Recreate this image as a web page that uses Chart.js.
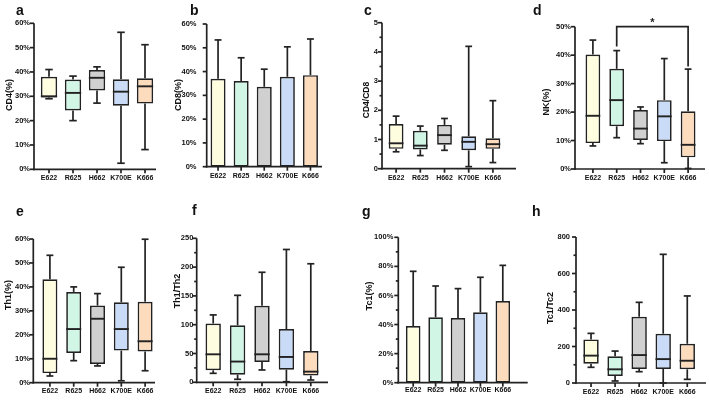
<!DOCTYPE html>
<html><head><meta charset="utf-8">
<script src="https://cdn.jsdelivr.net/npm/chart.js@4.4.1/dist/chart.umd.min.js"></script>
<style>
html,body{margin:0;padding:0;background:#fff;}
#wrap{position:relative;width:709px;height:400px;overflow:hidden;background:#fff;}
#wrap canvas{position:absolute;left:0;top:0;}
</style></head><body><div id="wrap"></div>
<script>
// ---------------- data ----------------
const categories = ['E622', 'R625', 'H662', 'K700E', 'K666'];

// box plots: [min, q1, median, q3, max] per category
const cd4Box = [[29, 29.5, 30, 38, 41], [20, 24.2, 31.4, 36.9, 38.3], [27.2, 32.4, 37.6, 40.8, 42.1], [2.5, 26.1, 31.9, 37, 56.3], [8.1, 27, 34.1, 37.4, 51.2]];
const ratioCd4Cd8Box = [[0.58, 0.68, 0.87, 1.53, 1.80], [0.45, 0.66, 0.79, 1.30, 1.46], [0.63, 0.82, 1.15, 1.50, 1.72], [0.07, 0.63, 0.92, 1.11, 4.19], [0.21, 0.68, 0.84, 1.04, 2.33]];
const nkBox = [[8.1, 9.1, 18.7, 40.2, 45.3], [11, 15, 24.2, 35.2, 41.6], [8.9, 10.2, 14.2, 20.7, 21.8], [2.2, 9.8, 18.5, 24.2, 38.8], [0.2, 4.1, 8.5, 20.3, 35.1]];
const th1Box = [[2.8, 4, 10, 43.2, 53.2], [9.2, 12.4, 22.4, 37.9, 40], [7, 7.8, 26.7, 32.2, 37.2], [0.8, 13.4, 22.4, 33.6, 48.2], [5, 13, 17.3, 33.8, 59.9]];
const th1Th2Box = [[15.6, 20.8, 48.6, 102, 117], [5.2, 13.3, 36, 99, 151], [21.4, 35.3, 48.6, 133, 191], [1, 22, 44, 92.5, 230.6], [4, 11.6, 18.5, 54.3, 205.8]];
const tc1Tc2Box = [[86, 106, 150, 239, 272], [11, 38, 75, 146, 175], [62, 77, 153, 363, 442], [0, 77, 131, 270, 705], [20, 75, 122, 215, 477]];

// bar + SD panels
const cd8Mean = [37, 36, 33.6, 37.8, 38.5];
const cd8SD = [16.3, 9.8, 7.4, 12.6, 15.2];
const tc1Mean = [39, 45, 44.5, 48.4, 56.2];
const tc1SD = [37.6, 21.5, 20.2, 24.1, 24.5];

// significance bracket in panel d: [fromIndex, toIndex, level, leftEnd, rightEnd]
const nkSignificance = [1, 4, 50, 43, 36];
const nkSignificanceLabel = '*';

// tick labels
const ticksPct60 = [0, 10, 20, 30, 40, 50, 60];
const ticksPct50 = [0, 10, 20, 30, 40, 50];
const ticksRatio5 = [0, 1, 2, 3, 4, 5];
const minorRatio5 = [0.5, 1.5, 2.5, 3.5, 4.5];
const ticks250 = [0, 50, 100, 150, 200, 250];
const minor250 = [25, 75, 125, 175, 225];
const ticksPct100 = [0, 20, 40, 60, 80, 100];
const minorPct100 = [10, 30, 50, 70, 90];
const ticks800 = [0, 200, 400, 600, 800];
const minor800 = [100, 300, 500, 700];

// ---------------- styling / layout ----------------
const FONT = "'Liberation Sans', Arial, Helvetica, sans-serif";
const LINE = '#222222';
const boxColors = ['#FFFDE0', '#D1F6E6', '#D0D0D0', '#C9DBF6', '#FDDBBD'];
const WY = 30, HX = 20;

const panels = [
  {letter: 'a', lx: 16, ly: 15, title: 'CD4(%)', tx: 10, ty: 95, tsize: 9, kind: 'box', box: cd4Box, ticks: ticksPct60, minor: [], max: 60, pct: true,
   axisX: 34, axisEnd: 156, catL: 37, catR: 157, top: 23.3, bottom: 169.3, bw: 0.68, yPad: 7, xPad: 5},
  {letter: 'b', lx: 190, ly: 15, title: 'CD8(%)', tx: 179, ty: 95, tsize: 9, kind: 'bar', mean: cd8Mean, sd: cd8SD, ticks: ticksPct60, minor: [], max: 60, pct: true,
   axisX: 206.7, axisEnd: 322, catL: 206.5, catR: 322, top: 24, bottom: 166.7, bw: 0.65, yPad: 10, xPad: 5},
  {letter: 'c', lx: 364, ly: 15, title: 'CD4/CD8', tx: 367, ty: 100, tsize: 8.5, kind: 'box', box: ratioCd4Cd8Box, ticks: ticksRatio5, minor: minorRatio5, max: 5, pct: false,
   axisX: 382, axisEnd: 516, catL: 384, catR: 505, top: 22.7, bottom: 168.7, bw: 0.61, yPad: 6, xPad: 5},
  {letter: 'd', lx: 533, ly: 15, title: 'NK(%)', tx: 547, ty: 102, tsize: 9, kind: 'box', box: nkBox, ticks: ticksPct50, minor: [], max: 50, pct: true,
   axisX: 575, axisEnd: 705, catL: 581, catR: 700, top: 26.7, bottom: 169, bw: 0.62, yPad: 10, xPad: 5, sig: true},
  {letter: 'e', lx: 16, ly: 216, title: 'Th1(%)', tx: 9, ty: 295, tsize: 9, kind: 'box', box: th1Box, ticks: ticksPct60, minor: [], max: 60, pct: true,
   axisX: 33.3, axisEnd: 155, catL: 38, catR: 157, top: 239, bottom: 382.7, bw: 0.63, yPad: 8, xPad: 4.5},
  {letter: 'f', lx: 192, ly: 215, title: 'Th1/Th2', tx: 178, ty: 291, tsize: 9, kind: 'box', box: th1Th2Box, ticks: ticks250, minor: minor250, max: 250, pct: false,
   axisX: 196.7, axisEnd: 328, catL: 201, catR: 323, top: 238.3, bottom: 382.3, bw: 0.63, yPad: 7.7, xPad: 4.5},
  {letter: 'g', lx: 362, ly: 216, title: 'Tc1(%)', tx: 370, ty: 296, tsize: 9, kind: 'bar', mean: tc1Mean, sd: tc1SD, ticks: ticksPct100, minor: minorPct100, max: 100, pct: true,
   axisX: 398.3, axisEnd: 527.7, catL: 402, catR: 514, top: 237.3, bottom: 382.7, bw: 0.65, yPad: 8.7, xPad: 3},
  {letter: 'h', lx: 532, ly: 216, title: 'Tc1/Tc2', tx: 551, ty: 308, tsize: 9, kind: 'box', box: tc1Tc2Box, ticks: ticks800, minor: minor800, max: 800, pct: false,
   axisX: 576, axisEnd: 706, catL: 579, catR: 699.3, top: 237, bottom: 383, bw: 0.64, yPad: 9, xPad: 4.5}
];

function seg(ctx, x1, y1, x2, y2) {
  ctx.beginPath(); ctx.moveTo(x1, y1); ctx.lineTo(x2, y2); ctx.stroke();
}

function makePlugin(p) {
  return {
    id: 'panel_' + p.letter,
    afterDatasetsDraw(chart) {
      const ctx = chart.ctx;
      const ys = chart.scales.y;
      const meta = chart.getDatasetMeta(0);
      ctx.save();
      ctx.strokeStyle = LINE;
      meta.data.forEach((el, i) => {
        const x = el.x, w = el.width;
        const cap = w * 0.46;
        ctx.lineWidth = 1.7;
        if (p.kind === 'box') {
          const [mn, q1, md, q3, mx] = p.box[i];
          const yMax = ys.getPixelForValue(mx), yQ3 = ys.getPixelForValue(q3);
          const yMin = ys.getPixelForValue(mn), yQ1 = ys.getPixelForValue(q1);
          const yMed = ys.getPixelForValue(md);
          seg(ctx, x, yMax, x, yQ3);
          seg(ctx, x - cap / 2, yMax, x + cap / 2, yMax);
          seg(ctx, x, yMin, x, yQ1);
          seg(ctx, x - cap / 2, yMin, x + cap / 2, yMin);
          ctx.lineWidth = 1.9;
          seg(ctx, x - w / 2, yMed, x + w / 2, yMed);
        } else {
          const yTop = ys.getPixelForValue(p.mean[i] + p.sd[i]);
          const yM = ys.getPixelForValue(p.mean[i]);
          seg(ctx, x, yM, x, yTop);
          seg(ctx, x - cap / 2, yTop, x + cap / 2, yTop);
        }
      });
      ctx.restore();
    },
    afterDraw(chart) {
      const ctx = chart.ctx;
      const ys = chart.scales.y;
      const meta = chart.getDatasetMeta(0);
      const y0 = ys.getPixelForValue(0);
      const yT = ys.getPixelForValue(p.max);
      ctx.save();
      ctx.strokeStyle = LINE;
      ctx.lineWidth = 1.7;
      // y axis
      seg(ctx, p.axisX, y0 + 0.85, p.axisX, yT);
      p.ticks.forEach(v => { const y = ys.getPixelForValue(v); seg(ctx, p.axisX - 4, y, p.axisX, y); });
      p.minor.forEach(v => { const y = ys.getPixelForValue(v); seg(ctx, p.axisX - 2.5, y, p.axisX, y); });
      // x axis
      seg(ctx, p.axisX - 0.85, y0, p.axisEnd, y0);
      meta.data.forEach(el => seg(ctx, el.x, y0, el.x, y0 + 4));
      // significance bracket
      if (p.sig) {
        const [a, b, lvl, e1, e2] = nkSignificance;
        const xa = meta.data[a].x, xb = meta.data[b].x;
        const yl = ys.getPixelForValue(lvl);
        ctx.beginPath();
        ctx.moveTo(xa, ys.getPixelForValue(e1));
        ctx.lineTo(xa, yl);
        ctx.lineTo(xb, yl);
        ctx.lineTo(xb, ys.getPixelForValue(e2));
        ctx.stroke();
        ctx.fillStyle = LINE;
        ctx.font = 'bold 11px ' + FONT;
        ctx.textAlign = 'center';
        ctx.textBaseline = 'alphabetic';
        ctx.fillText(nkSignificanceLabel, (xa + xb) / 2, yl - 1);
      }
      // panel letter
      ctx.fillStyle = '#111';
      ctx.font = 'bold 14px ' + FONT;
      ctx.textAlign = 'left';
      ctx.textBaseline = 'alphabetic';
      ctx.fillText(p.letter, p.lx, p.ly);
      // axis title
      ctx.translate(p.tx, p.ty);
      ctx.rotate(-Math.PI / 2);
      ctx.font = 'bold ' + p.tsize + 'px ' + FONT;
      ctx.textAlign = 'center';
      ctx.textBaseline = 'middle';
      ctx.fillStyle = '#111';
      ctx.fillText(p.title, 0, 0);
      ctx.restore();
    }
  };
}

const wrap = document.getElementById('wrap');
panels.forEach(p => {
  const cv = document.createElement('canvas');
  cv.width = 709; cv.height = 400;
  cv.style.width = '709px'; cv.style.height = '400px';
  wrap.appendChild(cv);
  const dataset = p.kind === 'box'
    ? {data: p.box.map(b => [b[1], b[3]])}
    : {data: p.mean.slice()};
  Object.assign(dataset, {
    backgroundColor: boxColors, borderColor: LINE, borderWidth: 1.7, borderSkipped: false,
    barPercentage: p.bw, categoryPercentage: 1
  });
  new Chart(cv, {
    type: 'bar',
    data: {labels: categories, datasets: [dataset]},
    options: {
      responsive: false, animation: false, devicePixelRatio: 1,
      layout: {padding: {left: p.catL - WY, right: 709 - p.catR, top: p.top, bottom: 400 - p.bottom - HX}},
      plugins: {legend: {display: false}, tooltip: {enabled: false}},
      scales: {
        x: {
          type: 'category', offset: true,
          grid: {display: false, drawTicks: false}, border: {display: false},
          ticks: {font: {family: FONT, size: 7, weight: 'bold'}, color: '#111', padding: p.xPad, maxRotation: 0, autoSkip: false},
          afterFit: s => { s.height = HX; }
        },
        y: {
          min: 0, max: p.max,
          grid: {display: false, drawTicks: false}, border: {display: false},
          ticks: {font: {family: FONT, size: 7.5, weight: 'bold'}, color: '#111', padding: p.yPad,
                  callback: v => p.pct ? v + '%' : String(v)},
          afterBuildTicks: s => { s.ticks = p.ticks.map(v => ({value: v})); },
          afterFit: s => { s.width = WY; }
        }
      }
    },
    plugins: [makePlugin(p)]
  });
});
</script>
</body></html>
